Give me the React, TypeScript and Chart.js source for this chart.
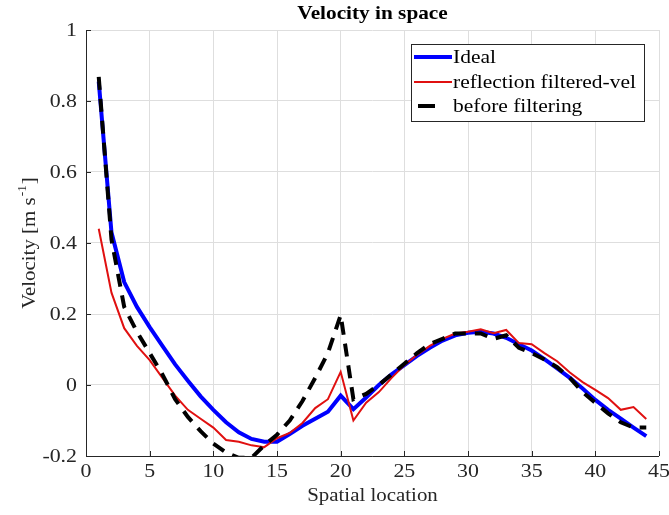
import React, { useEffect, useRef } from "react";
import { Chart, registerables } from "chart.js";

Chart.register(...registerables);

const xValues = [1,2,3,4,5,6,7,8,9,10,11,12,13,14,15,16,17,18,19,20,21,22,23,24,25,26,27,28,29,30,31,32,33,34,35,36,37,38,39,40,41,42,43,44];

const idealVel = [0.855,0.43,0.29,0.22,0.163,0.11,0.058,0.012,-0.032,-0.07,-0.105,-0.133,-0.152,-0.16,-0.16,-0.138,-0.115,-0.095,-0.075,-0.03,-0.068,-0.035,0.0,0.03,0.056,0.082,0.105,0.125,0.14,0.147,0.15,0.145,0.133,0.115,0.097,0.073,0.047,0.02,-0.01,-0.042,-0.07,-0.095,-0.12,-0.144];

const filteredVel = [0.44,0.26,0.16,0.11,0.07,0.02,-0.03,-0.07,-0.095,-0.12,-0.155,-0.16,-0.17,-0.175,-0.15,-0.135,-0.107,-0.065,-0.04,0.037,-0.10,-0.05,-0.02,0.02,0.056,0.085,0.11,0.13,0.145,0.15,0.157,0.146,0.155,0.118,0.115,0.09,0.067,0.035,0.008,-0.014,-0.037,-0.07,-0.062,-0.096];

const beforeVel = [0.868,0.41,0.22,0.15,0.09,0.03,-0.04,-0.09,-0.13,-0.165,-0.19,-0.205,-0.205,-0.17,-0.14,-0.10,-0.045,0.02,0.09,0.197,-0.04,-0.025,0.0,0.03,0.06,0.09,0.115,0.13,0.145,0.145,0.145,0.13,0.14,0.105,0.09,0.072,0.05,0.02,-0.02,-0.05,-0.08,-0.105,-0.12,-0.12];

const xTicks = [0,5,10,15,20,25,30,35,40,45];
const yTicks = [-0.2,0,0.2,0.4,0.6,0.8,1];
const yTickLabels = ["-0.2","0","0.2","0.4","0.6","0.8","1"];

const seriesNames = ["Ideal", "reflection filtered-vel", "before filtering"];
const seriesColors = ["#0000ff", "#e01010", "#000000"];

const chartTitle = "Velocity in space";
const xTitle = "Spatial location";
const yTitleMain = "Velocity [m s";
const yTitleSup = "-1";
const yTitleEnd = "]";

const FONT = "'Liberation Serif', 'Times New Roman', serif";
const TXT = "#262626";

function sText(ctx: any, text: string, x: number, y: number, align: string, sx: number) {
  ctx.save();
  ctx.translate(x, y);
  ctx.scale(sx, 1);
  ctx.textAlign = align;
  ctx.fillText(text, 0, 0);
  ctx.restore();
}

const overlayPlugin = {
  id: "overlay",
  afterDraw(chart: any) {
    const { ctx, chartArea } = chart;
    const { left, right, top, bottom } = chartArea;
    const xs = chart.scales.x;
    const ys = chart.scales.y;
    ctx.save();
    // axes lines
    ctx.strokeStyle = TXT;
    ctx.lineWidth = 1;
    ctx.beginPath();
    ctx.moveTo(left + 0.5, top);
    ctx.lineTo(left + 0.5, bottom + 0.5);
    ctx.lineTo(right, bottom + 0.5);
    ctx.stroke();
    // inward ticks
    ctx.beginPath();
    for (const t of xTicks) {
      const px = Math.round(xs.getPixelForValue(t)) + 0.5;
      ctx.moveTo(px, bottom);
      ctx.lineTo(px, bottom - 5);
    }
    for (const t of yTicks) {
      const py = Math.round(ys.getPixelForValue(t)) + 0.5;
      ctx.moveTo(left, py);
      ctx.lineTo(left + 5, py);
    }
    ctx.stroke();

    // tick labels
    ctx.fillStyle = TXT;
    ctx.font = `19px ${FONT}`;
    ctx.textBaseline = "middle";
    xTicks.forEach((t) => {
      sText(ctx, String(t), xs.getPixelForValue(t), bottom + 16, "center", 1.15);
    });
    yTicks.forEach((t, i) => {
      sText(ctx, yTickLabels[i], left - 9, ys.getPixelForValue(t) + 1, "right", 1.15);
    });

    // axis titles
    ctx.font = `19px ${FONT}`;
    sText(ctx, xTitle, (left + right) / 2, 496, "center", 1.1);

    ctx.save();
    ctx.translate(30, 243);
    ctx.rotate(-Math.PI / 2);
    ctx.scale(1.1, 1);
    ctx.font = `19px ${FONT}`;
    const w1 = ctx.measureText(yTitleMain).width;
    ctx.font = `12px ${FONT}`;
    const w2 = ctx.measureText(yTitleSup).width;
    ctx.font = `19px ${FONT}`;
    const w3 = ctx.measureText(yTitleEnd).width;
    const total = w1 + w2 + 2 + w3;
    let cx = -total / 2;
    ctx.textAlign = "left";
    ctx.fillText(yTitleMain, cx, 0);
    cx += w1 + 1;
    ctx.font = `12px ${FONT}`;
    ctx.fillText(yTitleSup, cx, -7);
    cx += w2 + 1;
    ctx.font = `19px ${FONT}`;
    ctx.fillText(yTitleEnd, cx, 0);
    ctx.restore();

    // title
    ctx.fillStyle = "#000";
    ctx.font = `bold 19px ${FONT}`;
    sText(ctx, chartTitle, (left + right) / 2, 14, "center", 1.12);

    // legend
    const bx = 411, by = 44, bw = 233, bh = 77;
    ctx.fillStyle = "#fff";
    ctx.fillRect(bx, by, bw, bh);
    ctx.strokeStyle = TXT;
    ctx.lineWidth = 1;
    ctx.strokeRect(bx + 0.5, by + 0.5, bw, bh);
    ctx.font = `19px ${FONT}`;
    const rows = [57, 82, 106];
    for (let i = 0; i < 3; i++) {
      const yy = rows[i];
      ctx.strokeStyle = seriesColors[i];
      ctx.lineWidth = i === 1 ? 2 : 4;
      ctx.beginPath();
      if (i === 2) {
        ctx.moveTo(418, yy);
        ctx.lineTo(435, yy);
      } else {
        ctx.moveTo(414, yy);
        ctx.lineTo(452, yy);
      }
      ctx.stroke();
      ctx.fillStyle = "#000";
      sText(ctx, seriesNames[i], 453, yy + 1, "left", 1.13);
    }
    ctx.restore();
  },
};

export default function App() {
  const ref = useRef<HTMLCanvasElement>(null);
  useEffect(() => {
    const mk = (arr: number[]) => xValues.map((x, i) => ({ x, y: arr[i] }));
    const chart = new Chart(ref.current!, {
      type: "line",
      data: {
        datasets: [
          {
            label: seriesNames[2],
            data: mk(beforeVel),
            borderColor: seriesColors[2],
            borderWidth: 4,
            borderDash: [13, 9],
            pointRadius: 0,
            tension: 0,
            order: 1,
          },
          {
            label: seriesNames[1],
            data: mk(filteredVel),
            borderColor: seriesColors[1],
            borderWidth: 2,
            pointRadius: 0,
            tension: 0,
            order: 2,
          },
          {
            label: seriesNames[0],
            data: mk(idealVel),
            borderColor: seriesColors[0],
            borderWidth: 4,
            pointRadius: 0,
            tension: 0,
            order: 3,
          },
        ],
      },
      options: {
        animation: false,
        responsive: false,
        maintainAspectRatio: false,
        layout: { padding: { top: 30, right: 10, left: 0, bottom: 0 } },
        plugins: { legend: { display: false }, tooltip: { enabled: false }, title: { display: false } },
        scales: {
          x: {
            type: "linear",
            min: 0,
            max: 45,
            afterBuildTicks: (s: any) => { s.ticks = xTicks.map((v) => ({ value: v })); },
            afterFit: (s: any) => { s.height = 59; },
            grid: { color: "#dedede", drawTicks: false },
            border: { display: false },
            ticks: { display: false },
          },
          y: {
            type: "linear",
            min: -0.2,
            max: 1,
            afterBuildTicks: (s: any) => { s.ticks = yTicks.map((v) => ({ value: v })); },
            afterFit: (s: any) => { s.width = 86; },
            grid: { color: "#dedede", drawTicks: false },
            border: { display: false },
            ticks: { display: false },
          },
        },
      },
      plugins: [overlayPlugin],
    });
    return () => chart.destroy();
  }, []);
  return (
    <div style={{ position: "fixed", left: 0, top: 0, width: 669, height: 515, background: "#fff" }}>
      <canvas ref={ref} width={669} height={515} style={{ width: 669, height: 515 }} />
    </div>
  );
}
